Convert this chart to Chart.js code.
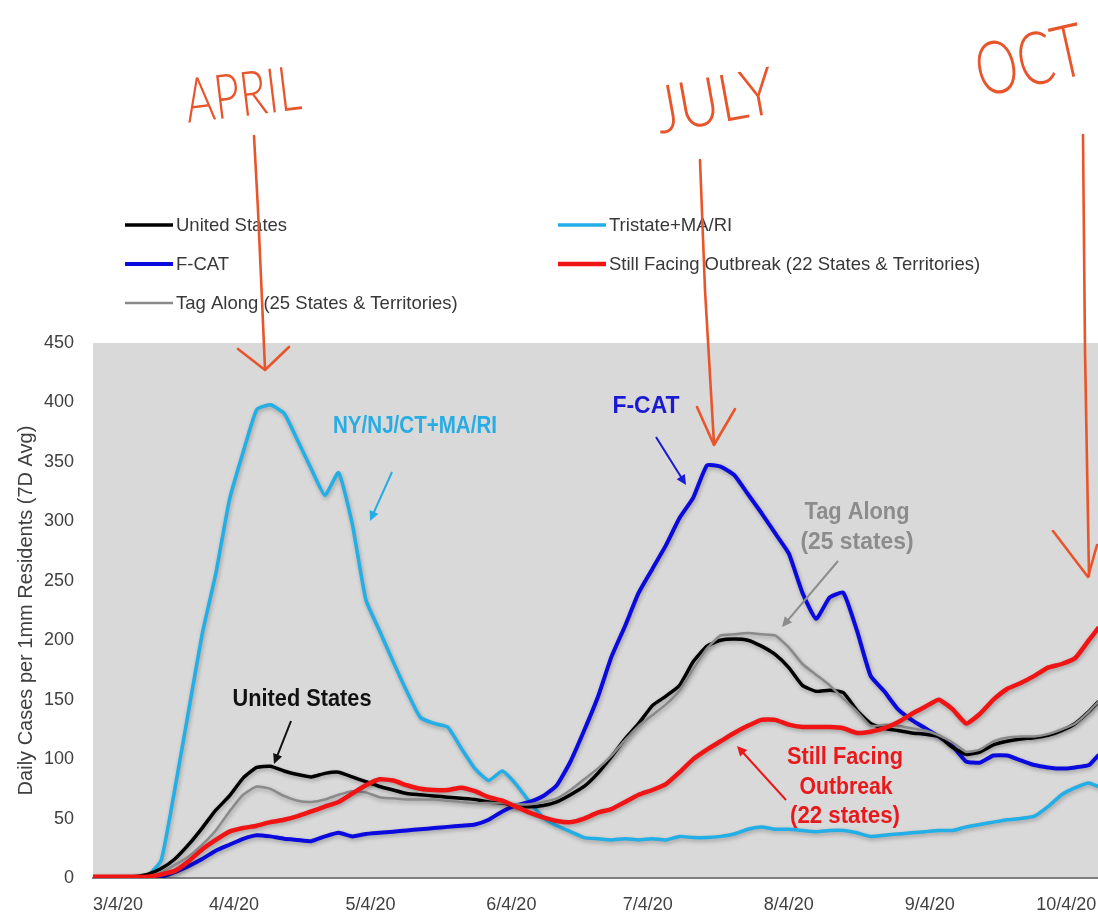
<!DOCTYPE html>
<html>
<head>
<meta charset="utf-8">
<title>Daily Cases per 1mm Residents</title>
<script src="https://cdn.jsdelivr.net/npm/chart.js@4.4.1/dist/chart.umd.min.js"></script>
<style>
  html, body { margin: 0; padding: 0; background: #ffffff; }
  canvas { display: block; }
</style>
</head>
<body>
<canvas id="chart" width="1098" height="918"></canvas>
<script>
// Days since 3/4/20 at which each series is sampled
const days = [0,3,6,9,12,15,18,21,24,27,30,33,36,39,42,45,48,51,54,57,60,63,66,69,72,75,78,81,84,87,90,93,96,99,102,105,108,111,114,117,120,123,126,129,132,135,138,141,144,147,150,153,156,159,162,165,168,171,174,177,180,183,186,189,192,195,198,201,204,207,210,213,216,219,221];

// Axis ticks (day offset and label)
const tickDays = [0,31,61,92,122,153,184,214,221];
const tickLabels = ['3/4/20','4/4/20','5/4/20','6/4/20','7/4/20','8/4/20','9/4/20','10/4/20',''];

// Daily cases per 1mm residents, 7-day average
const unitedStates = [0,0,0,1,3,8,16,28,42,57,69,84,93,94,90,87,85,88,89,85,81,77,74,71,70,69,68,67,66,64,63,61,60,61,64,70,77,88,102,117,130,145,153,162,182,195,200,201,200,195,188,177,162,157,158,156,141,130,126,124,122,121,119,110,104,106,112,115,117,118,120,124,130,140,148];
const tristate = [0,0,1,1,2,15,75,140,205,256,318,358,394,398,391,368,344,322,341,298,234,208,182,157,135,130,127,109,92,82,90,79,64,51,44,39,34,33,32,33,32,33,32,35,34,34,35,37,41,43,41,41,40,39,40,40,38,35,36,37,38,39,40,40,43,45,47,49,50,52,60,70,76,80,77];
const fcat = [0,0,0,0,0,1,5,10,16,23,28,33,36,35,33,32,31,35,38,35,37,38,39,40,41,42,43,44,45,49,56,61,64,69,78,98,124,152,186,212,240,260,280,303,320,347,346,339,323,307,290,273,240,218,236,240,208,170,157,142,133,126,119,111,98,97,103,103,99,95,93,92,93,95,103];
const stillFacing = [1,1,1,1,1,3,6,14,24,32,39,42,44,47,49,52,56,60,64,71,78,83,82,78,75,74,74,76,73,68,65,60,55,51,48,47,50,55,58,64,70,74,79,89,100,108,115,122,128,133,133,129,127,127,127,126,122,123,126,131,138,144,150,142,130,138,150,159,164,170,177,180,185,200,210];
const tagAlong = [0,0,0,1,1,5,11,18,28,40,56,70,77,75,69,65,64,66,70,73,72,68,67,66,66,66,65,64,63,63,63,62,62,64,67,74,83,92,103,116,128,137,146,158,176,193,204,205,206,205,204,194,180,171,162,151,140,128,129,128,126,124,120,114,106,108,115,118,119,119,121,125,130,140,148];

const seriesNames = ['United States','Tristate+MA/RI','F-CAT','Still Facing Outbreak (22 States & Territories)','Tag Along (25 States & Territories)'];

const toPoints = vals => vals.map((v, i) => ({ x: days[i], y: v }));

Chart.defaults.font.family = "'Liberation Sans', Arial, sans-serif";

// Grey plotting area on a white page
const plotBackground = {
  id: 'plotBackground',
  beforeDraw(chart) {
    const { ctx, chartArea: a } = chart;
    ctx.save();
    ctx.fillStyle = '#ffffff';
    ctx.fillRect(0, 0, chart.width, chart.height);
    ctx.fillStyle = '#d9d9d9';
    ctx.fillRect(a.left, a.top, a.right - a.left, a.bottom - a.top);
    ctx.restore();
  }
};

// Soft drop shadow under the series lines
const lineShadow = {
  id: 'lineShadow',
  beforeDatasetsDraw(chart) {
    const ctx = chart.ctx;
    ctx.save();
    ctx.shadowColor = 'rgba(0,0,0,0.28)';
    ctx.shadowBlur = 4;
    ctx.shadowOffsetX = 1;
    ctx.shadowOffsetY = 2;
  },
  afterDatasetsDraw(chart) {
    chart.ctx.restore();
  }
};

function fitText(ctx, text, cx, cy, width, font, color, angle) {
  ctx.save();
  ctx.font = font;
  const m = ctx.measureText(text).width;
  ctx.translate(cx, cy);
  ctx.rotate(angle || 0);
  ctx.scale(width / m, 1);
  ctx.fillStyle = color;
  ctx.textAlign = 'center';
  ctx.textBaseline = 'middle';
  ctx.fillText(text, 0, 0);
  ctx.restore();
}

function pointer(ctx, x1, y1, x2, y2, color, width, head) {
  const ang = Math.atan2(y2 - y1, x2 - x1);
  ctx.save();
  ctx.strokeStyle = color;
  ctx.fillStyle = color;
  ctx.lineWidth = width;
  ctx.beginPath();
  ctx.moveTo(x1, y1);
  ctx.lineTo(x2 - Math.cos(ang) * head * 0.8, y2 - Math.sin(ang) * head * 0.8);
  ctx.stroke();
  ctx.beginPath();
  ctx.moveTo(x2, y2);
  ctx.lineTo(x2 - head * Math.cos(ang - 0.45), y2 - head * Math.sin(ang - 0.45));
  ctx.lineTo(x2 - head * Math.cos(ang + 0.45), y2 - head * Math.sin(ang + 0.45));
  ctx.closePath();
  ctx.fill();
  ctx.restore();
}

function handStroke(ctx, pts, color) {
  ctx.save();
  ctx.strokeStyle = color;
  ctx.lineWidth = 2.6;
  ctx.lineCap = 'round';
  ctx.lineJoin = 'round';
  ctx.beginPath();
  ctx.moveTo(pts[0][0], pts[0][1]);
  for (let i = 1; i < pts.length; i++) ctx.lineTo(pts[i][0], pts[i][1]);
  ctx.stroke();
  ctx.restore();
}

// Two-column legend, callout labels and the month markers
const overlay = {
  id: 'overlay',
  afterDraw(chart) {
    const ctx = chart.ctx;
    const ds = chart.data.datasets;

    const slots = [[125, 225], [558, 225], [125, 264], [558, 264], [125, 303]];
    ds.forEach((d, i) => {
      const [x, y] = slots[i];
      ctx.save();
      ctx.strokeStyle = d.borderColor;
      ctx.lineWidth = d.borderWidth;
      ctx.beginPath();
      ctx.moveTo(x, y);
      ctx.lineTo(x + 48, y);
      ctx.stroke();
      ctx.fillStyle = '#383838';
      ctx.font = "18.5px 'Liberation Sans', Arial, sans-serif";
      ctx.textBaseline = 'middle';
      ctx.fillText(d.label, x + 51, y + 1);
      ctx.restore();
    });

    const bold = "bold 23px 'Liberation Sans', Arial, sans-serif";
    fitText(ctx, 'NY/NJ/CT+MA/RI', 415, 427, 164, bold, '#27ade3');
    pointer(ctx, 392, 472, 370, 521, '#27ade3', 2, 11);

    fitText(ctx, 'F-CAT', 646, 407, 67, bold, '#1a1ad2');
    pointer(ctx, 656, 437, 686, 485, '#1a1ad2', 2, 11);

    fitText(ctx, 'United States', 302, 700, 139, bold, '#111111');
    pointer(ctx, 291, 721, 274, 764, '#111111', 2, 11);

    fitText(ctx, 'Tag Along', 857, 513, 105, bold, '#8c8c8c');
    fitText(ctx, '(25 states)', 857, 543, 113, bold, '#8c8c8c');
    pointer(ctx, 838, 561, 782, 627, '#8c8c8c', 2, 11);

    fitText(ctx, 'Still Facing', 845, 758, 116, bold, '#e8191c');
    fitText(ctx, 'Outbreak', 846, 788, 93, bold, '#e8191c');
    fitText(ctx, '(22 states)', 845, 817, 110, bold, '#e8191c');
    pointer(ctx, 786, 800, 737, 746, '#e8191c', 2, 11);

    const hand = '#e9552b';
    const handFont = s => "300 " + s + "px Lato, 'DejaVu Sans', sans-serif";
    fitText(ctx, 'APRIL', 243, 96, 116, handFont(62), hand, -0.12);
    handStroke(ctx, [[254, 136], [258, 210], [262, 300], [265, 369]], hand);
    handStroke(ctx, [[238, 349], [265, 370], [289, 347]], hand);

    fitText(ctx, 'JULY', 715, 102, 120, handFont(66), hand, -0.18);
    handStroke(ctx, [[700, 160], [705, 290], [714, 444]], hand);
    handStroke(ctx, [[697, 407], [714, 445], [735, 409]], hand);

    fitText(ctx, 'OCT', 1030, 62, 110, handFont(74), hand, -0.22);
    handStroke(ctx, [[1083, 135], [1085, 350], [1089, 576]], hand);
    handStroke(ctx, [[1053, 531], [1088, 577], [1097, 545]], hand);
  }
};

new Chart(document.getElementById('chart'), {
  type: 'line',
  data: {
    datasets: [
      { label: seriesNames[0], data: toPoints(unitedStates), borderColor: '#000000', borderWidth: 3.5, order: 2 },
      { label: seriesNames[1], data: toPoints(tristate), borderColor: '#22aee6', borderWidth: 3.5, order: 4 },
      { label: seriesNames[2], data: toPoints(fcat), borderColor: '#0a0ade', borderWidth: 4, order: 3 },
      { label: seriesNames[3], data: toPoints(stillFacing), borderColor: '#f01414', borderWidth: 4.5, order: 0 },
      { label: seriesNames[4], data: toPoints(tagAlong), borderColor: '#8a8a8a', borderWidth: 2.5, order: 1 }
    ]
  },
  options: {
    responsive: false,
    animation: false,
    devicePixelRatio: 1,
    layout: { padding: { top: 343, left: 0, right: 0, bottom: 0 } },
    plugins: { legend: { display: false }, tooltip: { enabled: false } },
    elements: {
      point: { radius: 0 },
      line: { tension: 0.15, fill: false, borderJoinStyle: 'round', borderCapStyle: 'round' }
    },
    scales: {
      x: {
        type: 'linear',
        min: 0,
        max: 221,
        grid: { display: false, drawTicks: false },
        border: { display: true, color: '#7f7f7f', width: 2 },
        afterBuildTicks(scale) { scale.ticks = tickDays.map(v => ({ value: v })); },
        afterFit(scale) {
          scale.height = 40;
          scale.paddingLeft = 0;
          scale.paddingRight = 0;
        },
        ticks: {
          align: 'inner',
          padding: 16,
          maxRotation: 0,
          autoSkip: false,
          color: '#404040',
          font: { size: 18 },
          callback: (value, index) => tickLabels[index]
        }
      },
      y: {
        min: 0,
        max: 450,
        grid: { display: false, drawTicks: false },
        border: { display: false },
        afterFit(scale) { scale.width = 93; },
        ticks: { stepSize: 50, padding: 19, color: '#404040', font: { size: 18 } },
        title: {
          display: true,
          text: 'Daily Cases per 1mm Residents (7D Avg)',
          color: '#404040',
          font: { size: 20 },
          padding: { top: 14, bottom: 0 }
        }
      }
    }
  },
  plugins: [plotBackground, lineShadow, overlay]
});
</script>
</body>
</html>
